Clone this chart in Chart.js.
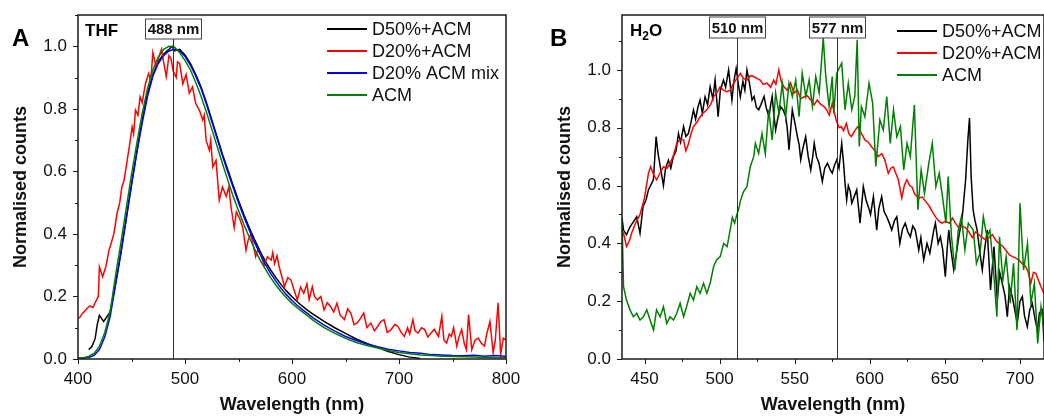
<!DOCTYPE html>
<html>
<head>
<meta charset="utf-8">
<title>Normalised emission spectra - THF / H2O</title>
<script src="https://cdn.jsdelivr.net/npm/chart.js@4.4.1/dist/chart.umd.min.js"></script>
<style>
  body { margin: 0; background: #fff; }
  .wrap { position: relative; width: 1044px; height: 416px; overflow: hidden; background: #fff; }
  #chartA { position: absolute; left: 0; top: 0; }
  #chartB { position: absolute; left: 520px; top: 0; }
</style>
</head>
<body>
<div class="wrap">
  <canvas id="chartA" width="520" height="416"></canvas>
  <canvas id="chartB" width="524" height="416"></canvas>
</div>
<script>
// ---- panel A (THF) ----
const thfGrid = [400,405,410,415,420,425,430,435,440,445,450,455,460,465,470,475,480,485,490,495,500,505,510,515,520,525,530,535,540,545,550,555,560,565,570,575,580,585,590,595,600,605,610,615,620,630,640,650,660,670,680,690,700,710,720,730,740,750,760,770,780,790,800];
const thfAcm = [0.003,0.004,0.008,0.018,0.04,0.085,0.15,0.265,0.37,0.48,0.59,0.69,0.785,0.865,0.925,0.965,0.99,1.0,0.998,0.98,0.955,0.925,0.885,0.84,0.79,0.735,0.68,0.625,0.572,0.52,0.475,0.43,0.39,0.352,0.318,0.288,0.26,0.236,0.214,0.195,0.178,0.163,0.15,0.137,0.123,0.1,0.082,0.066,0.053,0.043,0.035,0.027,0.021,0.017,0.013,0.011,0.009,0.008,0.007,0.006,0.005,0.005,0.004];
const thfMix = [0.003,0.003,0.005,0.012,0.03,0.07,0.135,0.235,0.335,0.445,0.555,0.66,0.755,0.84,0.905,0.945,0.97,0.985,0.99,0.985,0.968,0.94,0.905,0.865,0.815,0.76,0.705,0.65,0.598,0.548,0.5,0.455,0.413,0.373,0.337,0.303,0.274,0.248,0.225,0.205,0.187,0.171,0.157,0.144,0.131,0.108,0.089,0.072,0.059,0.048,0.039,0.031,0.026,0.021,0.018,0.014,0.013,0.011,0.01,0.012,0.009,0.011,0.009];

const thfD50Wl = [410,413,416,418,420,422,424,426,428,430,435,440,445,450,455,460,465,470,475,480,485,488,490,495,500,505,510,515,520,525,530,535,540,545,550,555,560,565,570,575,580,585,590,595,600,605,610,615,620,630,640,650,660,670,680,690,700,710,720];
const thfD50 = [0.03,0.04,0.065,0.11,0.14,0.13,0.12,0.13,0.14,0.15,0.24,0.34,0.45,0.56,0.665,0.765,0.85,0.91,0.95,0.975,0.99,1.0,0.985,0.99,0.972,0.945,0.91,0.87,0.82,0.765,0.71,0.655,0.605,0.555,0.507,0.462,0.42,0.382,0.346,0.313,0.285,0.26,0.237,0.217,0.199,0.183,0.168,0.155,0.143,0.12,0.1,0.082,0.064,0.05,0.037,0.024,0.014,0.006,0.002];

const thfD20Wl = [401,404,408,411,414,416,419,420,423,426,429,431,433.5,436.5,439,441,443,446,448,450.6,452,453.7,456,458,460,463,466,468,470,473,475,478,480,482.5,485,487,489,491.8,493,495,498,501,504,507,510,513.5,516.6,518,519.7,522.8,524,526,529,532,535,538.5,541,543,546,548,551,554,557,559,561.6,564,566,568,571,574,577,580.6,582,583.7,586,588,590,593,596,599,602,605,608,611,614,616,619,621,623.8,627,630,633,636,639,642,645,649,652,655,658,661,664,667,670,673.7,677,680,683,686,689,692.6,696,699,702,705,708,710,713,715,717.8,721,724,727,730,733,736.9,740,742,744.5,747,749,751,754,756,758.6,761,763,765,768,771,774,777,780,782,785,788,790,792.6,795,797.5,800];
const thfD20 = [0.13,0.145,0.16,0.17,0.165,0.18,0.2,0.295,0.263,0.295,0.348,0.37,0.4,0.466,0.5,0.55,0.57,0.636,0.68,0.742,0.72,0.796,0.78,0.838,0.82,0.88,0.913,0.89,0.98,0.934,0.96,0.99,0.95,0.903,0.97,0.96,0.92,0.9,0.95,0.945,0.88,0.91,0.85,0.87,0.817,0.795,0.764,0.78,0.699,0.667,0.7,0.614,0.635,0.508,0.55,0.52,0.55,0.486,0.42,0.47,0.45,0.42,0.348,0.38,0.4,0.36,0.327,0.35,0.332,0.3,0.327,0.316,0.34,0.305,0.33,0.295,0.27,0.231,0.26,0.253,0.22,0.189,0.23,0.21,0.24,0.19,0.231,0.2,0.189,0.2,0.157,0.18,0.168,0.15,0.178,0.14,0.126,0.16,0.147,0.11,0.115,0.13,0.147,0.1,0.115,0.09,0.104,0.12,0.126,0.085,0.094,0.11,0.104,0.085,0.072,0.1,0.08,0.126,0.09,0.083,0.1,0.094,0.07,0.083,0.095,0.072,0.136,0.06,0.051,0.08,0.072,0.1,0.041,0.07,0.094,0.05,0.03,0.142,0.03,0.06,0.067,0.05,0.041,0.08,0.12,0.02,0.06,0.18,0.015,0.067,0.06];

const thfPeakAt = [489];
const thfPeakText = ['488 nm'];

// ---- panel B (H2O) ----
const h2oD50Wl = [435,436,438,440.3,442,444.8,447,449,451,452.6,454,455.9,457.7,459,461,462.6,464,465.9,467.5,469.2,471,472.6,474,476,477.5,479.2,481,482.6,484,485.5,487,488.5,490.3,492,493.7,495.5,497,499,500.5,502.6,504,506,508.2,509.5,511,512.5,513.8,515.5,516.8,518.2,520,521.6,523,524.5,526,527.5,529.6,531,532.9,534,535,536,537.3,539,540.7,542.5,544,545,546.2,547.4,548.4,550,551.8,553,554,555.5,557.3,559,560.7,562,563,564.5,566.2,568.4,570,571.8,573.7,575,576.5,578,579.5,581.3,582.5,583.5,584.6,585.7,587,588,589.5,591.3,593.5,595.7,597.5,599,600.5,602.4,604.6,606,607.9,609.5,611.3,613,614.6,616.5,618,620,621.8,623.6,625.3,627,628.6,630.3,632.6,634,635.9,638.1,640,642.6,643.7,645.5,647,648.5,650.3,651.5,652.6,654,655.9,657.5,659.3,661.6,663.8,665.3,666.4,667.5,668.8,670,671.5,673,674.9,676.5,678.2,680.4,682.7,684.9,686.5,688.2,690,691.6,693,694.9,696.5,698.2,700,701.6,703,704.9,706.5,708.2,710,711.6,713,714.9,716];
const h2oD50 = [0.49,0.446,0.43,0.457,0.47,0.492,0.435,0.527,0.55,0.585,0.6,0.62,0.769,0.711,0.65,0.6,0.66,0.688,0.66,0.7,0.72,0.78,0.75,0.804,0.77,0.78,0.82,0.861,0.83,0.87,0.896,0.85,0.907,0.88,0.942,0.9,0.965,0.838,0.93,0.965,0.94,1.0,0.896,0.96,1.005,0.95,0.907,0.96,0.93,1.0,0.95,0.896,0.908,0.87,0.862,0.88,0.908,0.87,0.838,0.88,0.908,0.85,0.792,0.84,0.873,0.86,0.838,0.8,0.723,0.8,0.862,0.82,0.769,0.74,0.689,0.73,0.769,0.7,0.654,0.7,0.746,0.7,0.677,0.614,0.66,0.677,0.654,0.643,0.67,0.689,0.66,0.746,0.68,0.608,0.55,0.6,0.58,0.539,0.56,0.585,0.47,0.596,0.55,0.527,0.5,0.562,0.446,0.52,0.562,0.51,0.492,0.47,0.446,0.48,0.492,0.4,0.45,0.47,0.44,0.423,0.46,0.446,0.377,0.42,0.343,0.4,0.366,0.446,0.47,0.4,0.423,0.38,0.285,0.38,0.446,0.38,0.308,0.36,0.423,0.492,0.619,0.758,0.834,0.63,0.516,0.48,0.446,0.38,0.308,0.38,0.446,0.239,0.389,0.204,0.3,0.262,0.22,0.146,0.25,0.216,0.17,0.123,0.2,0.216,0.15,0.112,0.17,0.193,0.14,0.1,0.16,0.17,0.06];

const h2oD20Wl = [435,436,438,440,441.4,444,447,450,452.6,454,455.9,458,460,462.6,465,467,469,471.5,474,476,477.5,479,481,482.6,485,487,489,491.5,494,496,498,500.4,502.5,504.9,507,509.3,511.5,513.8,516,518.2,520.5,522.7,525,527,529,531.6,534,536,537.5,539.4,541,542.8,545,547.3,549.5,551.8,554,556.2,558.5,560.7,563,565,567.5,569.6,571.5,573,575,577.6,579.5,581,582.5,584.4,586,587.7,590,592,594.5,596.7,599,601,603.5,605.6,608,610,612.3,614,615.7,617.5,619,621.3,623,624.7,626.5,628,630,632.6,635,637,639.5,641.6,644,646,648,650.4,653,655,657,659.3,661.5,663.8,666,668.2,670.5,672.7,675,677,679.5,681.6,684,686,688.5,690.5,693,695,697,699.4,701.5,703.8,705.5,707.2,709,710.6,712.5,714,716];
const h2oD20 = [0.44,0.435,0.389,0.41,0.435,0.47,0.5,0.557,0.642,0.665,0.64,0.62,0.64,0.665,0.66,0.677,0.7,0.746,0.76,0.758,0.72,0.74,0.78,0.804,0.82,0.838,0.85,0.862,0.88,0.907,0.92,0.942,0.93,0.925,0.93,0.954,0.97,0.988,0.97,0.965,0.98,0.977,0.97,0.965,0.95,0.954,0.94,0.965,0.95,1.0,0.96,0.942,0.93,0.954,0.92,0.931,0.9,0.907,0.91,0.896,0.88,0.896,0.88,0.873,0.86,0.844,0.884,0.827,0.8,0.804,0.79,0.815,0.78,0.769,0.79,0.804,0.78,0.758,0.75,0.735,0.72,0.7,0.71,0.689,0.642,0.66,0.665,0.64,0.62,0.557,0.6,0.62,0.6,0.596,0.57,0.557,0.56,0.546,0.53,0.51,0.49,0.477,0.47,0.477,0.47,0.488,0.47,0.454,0.46,0.454,0.44,0.42,0.44,0.43,0.42,0.412,0.42,0.43,0.41,0.4,0.39,0.377,0.36,0.354,0.35,0.342,0.33,0.32,0.3,0.262,0.3,0.296,0.27,0.25,0.227];

const h2oAcmWl = [435,436,438,440.3,442.6,444.8,447,449.3,451.5,453.7,456,458,460.4,462.6,464.8,467,469.3,471.5,473.7,476,478,480.4,482.6,484.8,487,489.3,491.5,493.7,496,498,500.4,502.7,505,507,508.5,510,511.5,512.6,513.8,516,518.2,520.4,522.7,523.8,526,528.2,530.4,532.7,535,537.3,539.5,541.7,544,546.2,548.4,550.7,552.9,555,557.4,559.6,561.8,564,566.3,569,570.7,572.9,575,576,578,581.3,583.5,585.7,588,590,591.6,593,594.4,596.7,599.5,601.9,604,606.7,609,611.3,613.6,615.8,618,620.4,622.6,624.8,627,629.7,632,634.2,636.4,639.3,641.6,644,646.2,648.4,650.7,652.2,654.4,656.7,658.9,661,663.3,665.6,668.9,671,673.4,675.6,678,680,682.4,684.6,686.4,688.6,690.8,693.5,695.7,698,700,702.4,705,707.3,709.6,711.8,714,716];
const h2oAcm = [0.49,0.25,0.204,0.17,0.146,0.158,0.135,0.146,0.17,0.135,0.1,0.17,0.146,0.181,0.123,0.146,0.135,0.158,0.193,0.146,0.181,0.227,0.204,0.25,0.227,0.262,0.227,0.262,0.32,0.343,0.354,0.4,0.389,0.446,0.49,0.47,0.5,0.516,0.546,0.58,0.596,0.665,0.7,0.746,0.711,0.78,0.711,0.862,0.758,0.92,0.85,0.954,0.838,0.954,0.908,0.965,0.838,0.989,0.908,0.965,0.873,0.977,0.92,1.11,0.977,0.873,0.977,0.85,0.989,1.024,0.862,0.954,0.862,0.908,1.104,0.735,0.873,0.838,0.954,0.885,0.666,0.827,0.792,0.908,0.746,0.862,0.769,0.804,0.654,0.746,0.7,0.879,0.516,0.654,0.573,0.677,0.746,0.596,0.642,0.562,0.47,0.631,0.423,0.308,0.446,0.492,0.377,0.47,0.446,0.33,0.366,0.492,0.423,0.446,0.308,0.146,0.423,0.273,0.354,0.193,0.331,0.1,0.539,0.308,0.4,0.193,0.262,0.054,0.181,0.1];

const h2oPeakAt = [511.5, 578];
const h2oPeakText = ['510 nm', '577 nm'];

const yLabels = ['0.0', '0.2', '0.4', '0.6', '0.8', '1.0'];

// build {x,y} points from a wavelength array and a value array
function pts(wl, vals) {
    return wl.map((w, i) => ({ x: w, y: vals[i] }));
}

const FONT = "'Liberation Sans', Arial, Helvetica, sans-serif";
Chart.defaults.font.family = FONT;
Chart.defaults.color = '#111';

// ////frame around the plot + outward tick marks (long for labelled, short for minor)
const framePlugin = {
    id: 'frame',
    afterDraw(chart) {
        const { ctx, chartArea: a, scales } = chart;
        ctx.save();
        ctx.strokeStyle = '#1a1a1a';
        ctx.lineWidth = 1;
        scales.x.ticks.forEach(t => {
            const px = Math.round(scales.x.getPixelForValue(t.value)) + 0.5;
            const len = t.label !== '' ? 5 : 3;
            ctx.beginPath();
            ctx.moveTo(px, a.bottom);
            ctx.lineTo(px, a.bottom + len);
            ctx.stroke();
        });
        scales.y.ticks.forEach(t => {
            const py = Math.round(scales.y.getPixelForValue(t.value)) + 0.5;
            const len = t.label !== '' ? 5 : 3;
            ctx.beginPath();
            ctx.moveTo(a.left, py);
            ctx.lineTo(a.left - len, py);
            ctx.stroke();
        });
        ctx.lineWidth = 1.5;
        ctx.strokeRect(a.left, a.top, a.right - a.left, a.bottom - a.top);
        ctx.restore();
    }
};

// ////vertical peak markers with boxed labels
const peakPlugin = {
    id: 'peaks',
    afterDatasetsDraw(chart, args, opts) {
        if (!opts.at) return;
        const { ctx, chartArea: a, scales } = chart;
        ctx.save();
        opts.at.forEach((v, i) => {
            const px = Math.round(scales.x.getPixelForValue(v)) + 0.5;
            const w = opts.w, h = opts.h;
            ctx.strokeStyle = '#333';
            ctx.lineWidth = 1;
            ctx.beginPath();
            ctx.moveTo(px, opts.top + h);
            ctx.lineTo(px, a.bottom);
            ctx.stroke();
            ctx.fillStyle = '#fff';
            ctx.fillRect(px - w / 2, opts.top, w, h);
            ctx.strokeStyle = '#444';
            ctx.strokeRect(px - w / 2, opts.top, w, h);
            ctx.fillStyle = '#111';
            ctx.font = 'bold 15px ' + FONT;
            ctx.textAlign = 'center';
            ctx.textBaseline = 'middle';
            ctx.fillText(opts.text[i], px, opts.top + h / 2 + 1);
        });
        ctx.restore();
    }
};

// ////legend drawn inside the plot, plus panel letter and solvent tag
const notePlugin = {
    id: 'notes',
    afterDraw(chart, args, opts) {
        const { ctx } = chart;
        ctx.save();
        ctx.textBaseline = 'middle';
        chart.data.datasets.forEach((ds, i) => {
            const y = opts.legY + i * opts.legStep;
            ctx.strokeStyle = ds.borderColor;
            ctx.lineWidth = 2;
            ctx.beginPath();
            ctx.moveTo(opts.legX, y);
            ctx.lineTo(opts.legX + 40, y);
            ctx.stroke();
            ctx.fillStyle = '#111';
            ctx.font = '18px ' + FONT;
            ctx.textAlign = 'left';
            ctx.fillText(ds.label, opts.legX + 45, y + 1);
        });
        ctx.textBaseline = 'alphabetic';
        ctx.fillStyle = '#000';
        ctx.font = 'bold 24px ' + FONT;
        ctx.fillText(opts.letter, opts.letterX, 46);
        let x = opts.tagX;
        opts.tag.forEach(part => {
            ctx.font = part.sub ? 'bold 12px ' + FONT : 'bold 17px ' + FONT;
            ctx.fillText(part.t, x, part.sub ? 40 : 36);
            x += ctx.measureText(part.t).width;
        });
        ctx.restore();
    }
};

function makeOptions(cfg) {
    return {
        responsive: false,
        animation: false,
        devicePixelRatio: 1,
        layout: { padding: { top: 15, right: cfg.padRight, left: 0, bottom: 0 } },
        elements: { point: { radius: 0 }, line: { borderWidth: 1.5, tension: 0 } },
        plugins: {
            legend: { display: false },
            tooltip: { enabled: false },
            peaks: cfg.peaks,
            notes: cfg.notes
        },
        scales: {
            x: {
                type: 'linear',
                min: cfg.xMin, max: cfg.xMax,
                // fixed axis band; end-label overflow is allowed to spill into the margin
                afterFit: s => { s.height = 57; s.paddingLeft = 0; s.paddingRight = 0; },
                grid: { display: true, drawOnChartArea: false, drawTicks: true, tickLength: 5, tickColor: 'rgba(0,0,0,0)' },
                border: { display: false },
                ticks: {
                    stepSize: cfg.xStep, includeBounds: false, autoSkip: false, maxRotation: 0,
                    padding: 5, font: { size: 17 }, color: '#111',
                    callback: v => (v % cfg.xMajor === 0 ? String(v) : '')
                },
                title: { display: true, text: 'Wavelength (nm)', font: { size: 18, weight: 'bold' }, color: '#111', padding: { top: 0, bottom: 0 } }
            },
            y: {
                min: 0, max: cfg.yMax,
                afterFit: s => { s.width = cfg.yWidth; s.paddingTop = 0; s.paddingBottom = 0; },
                grid: { display: true, drawOnChartArea: false, drawTicks: true, tickLength: 5, tickColor: 'rgba(0,0,0,0)' },
                border: { display: false },
                ticks: {
                    stepSize: 0.1, includeBounds: false, autoSkip: false,
                    padding: 6, font: { size: 17 }, color: '#111',
                    callback: v => {
                        const k = Math.round(v * 10);
                        return k % 2 === 0 && k <= 10 ? yLabels[k / 2] : '';
                    }
                },
                title: { display: true, text: 'Normalised counts', font: { size: 18, weight: 'bold' }, color: '#111', padding: { top: cfg.yTitlePad, bottom: 0 } }
            }
        }
    };
}

new Chart(document.querySelector('#chartA'), {
    type: 'line',
    data: {
        datasets: [
            { label: 'D50%+ACM', data: pts(thfD50Wl, thfD50), borderColor: '#000000', order: 4 },
            { label: 'D20%+ACM', data: pts(thfD20Wl, thfD20), borderColor: '#ff0000', order: 3 },
            { label: 'D20% ACM mix', data: pts(thfGrid, thfMix), borderColor: '#0000ff', order: 2 },
            { label: 'ACM', data: pts(thfGrid, thfAcm), borderColor: '#008000', order: 1 }
        ]
    },
    options: makeOptions({
        padRight: 14, xMin: 400, xMax: 800, xStep: 50, xMajor: 100, yMax: 1.1, yWidth: 78, yTitlePad: 10,
        peaks: { at: thfPeakAt, text: thfPeakText, top: 19, w: 56, h: 20 },
        notes: { legX: 327, legY: 29, legStep: 22, letter: 'A', letterX: 12, tagX: 85, tag: [{ t: 'THF' }] }
    }),
    plugins: [framePlugin, peakPlugin, notePlugin]
});

new Chart(document.querySelector('#chartB'), {
    type: 'line',
    data: {
        datasets: [
            { label: 'D50%+ACM', data: pts(h2oD50Wl, h2oD50), borderColor: '#000000', order: 3 },
            { label: 'D20%+ACM', data: pts(h2oD20Wl, h2oD20), borderColor: '#ff0000', order: 2 },
            { label: 'ACM', data: pts(h2oAcmWl, h2oAcm), borderColor: '#008000', order: 1 }
        ]
    },
    options: makeOptions({
        padRight: 0, xMin: 435, xMax: 716, xStep: 25, xMajor: 50, yMax: 1.19, yWidth: 102, yTitlePad: 34,
        peaks: { at: h2oPeakAt, text: h2oPeakText, top: 17, w: 56, h: 21 },
        notes: { legX: 377, legY: 31, legStep: 22, letter: 'B', letterX: 30, tagX: 110, tag: [{ t: 'H' }, { t: '2', sub: true }, { t: 'O' }] }
    }),
    plugins: [framePlugin, peakPlugin, notePlugin]
});
</script>
</body>
</html>
